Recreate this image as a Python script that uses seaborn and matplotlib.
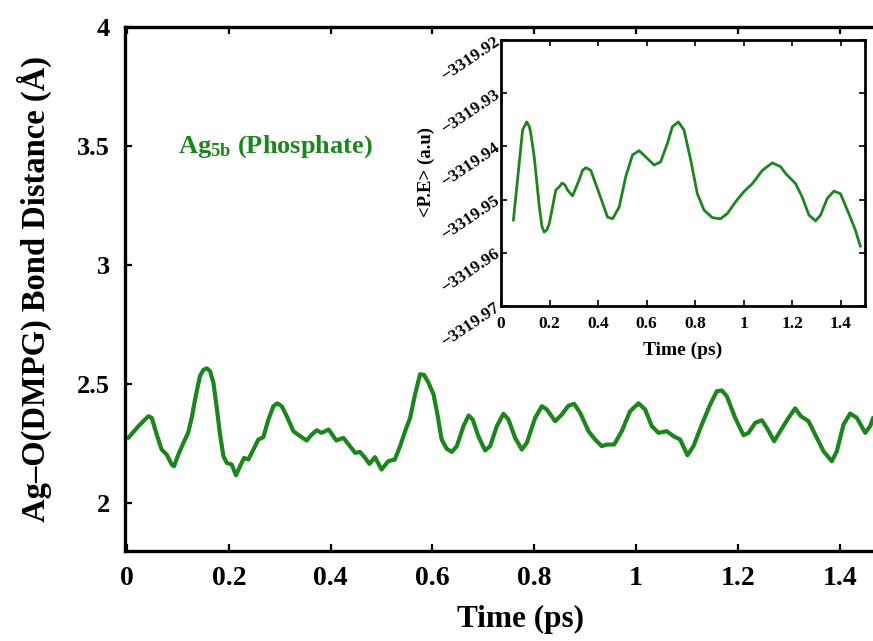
import numpy as np
import pandas as pd
import matplotlib
matplotlib.use("Agg")
import matplotlib.pyplot as plt
import seaborn as sns
from matplotlib.ticker import FixedLocator, FuncFormatter

# ---- main series: Ag-O bond distance ----
main_time = [0.0026, 0.0223, 0.042, 0.0485, 0.0583, 0.068, 0.0779, 0.0878, 0.0923, 0.1008,
             0.1107, 0.120, 0.127, 0.1356, 0.1434, 0.150, 0.1565, 0.163, 0.1696, 0.1762,
             0.1827, 0.1893, 0.1958, 0.2056, 0.2141, 0.222, 0.2299, 0.2384, 0.2482, 0.258,
             0.2678, 0.2777, 0.2875, 0.2953, 0.3039, 0.3137, 0.3268, 0.340, 0.353, 0.3628,
             0.3726, 0.382, 0.396, 0.411, 0.425, 0.438, 0.448, 0.4578, 0.4676, 0.4761,
             0.487, 0.500, 0.513, 0.526, 0.5363, 0.5462, 0.556, 0.5658, 0.5756, 0.5835,
             0.592, 0.602, 0.6097, 0.618, 0.628, 0.638, 0.6477, 0.6608, 0.671, 0.679,
             0.690, 0.7033, 0.7132, 0.7263, 0.7394, 0.7492, 0.7623, 0.7754, 0.7852, 0.8016,
             0.8147, 0.8245, 0.8409, 0.854, 0.867, 0.8782, 0.890, 0.9064, 0.9194, 0.9325,
             0.9424, 0.9568, 0.9718, 0.9882, 1.0046, 1.0177, 1.0308, 1.0439, 1.060, 1.0733,
             1.0864, 1.1008, 1.1126, 1.129, 1.1454, 1.1585, 1.1683, 1.1781, 1.1945, 1.2109,
             1.2207, 1.2338, 1.2469, 1.2567, 1.2711, 1.2829, 1.2993, 1.3124, 1.3235, 1.3386,
             1.3517, 1.368, 1.3844, 1.3942, 1.4073, 1.4204, 1.4335, 1.450, 1.4597, 1.4656]
main_dist = [2.275, 2.324, 2.366, 2.359, 2.289, 2.226, 2.205, 2.163, 2.156, 2.205,
             2.254, 2.296, 2.359, 2.458, 2.535, 2.560, 2.567, 2.556, 2.507, 2.401,
             2.289, 2.198, 2.170, 2.163, 2.118, 2.156, 2.191, 2.184, 2.226, 2.268,
             2.278, 2.352, 2.408, 2.420, 2.408, 2.366, 2.303, 2.282, 2.264, 2.289,
             2.307, 2.296, 2.310, 2.264, 2.275, 2.240, 2.212, 2.216, 2.191, 2.166,
             2.194, 2.142, 2.177, 2.184, 2.240, 2.303, 2.359, 2.458, 2.542, 2.539,
             2.507, 2.458, 2.373, 2.268, 2.229, 2.216, 2.240, 2.324, 2.369, 2.352,
             2.282, 2.222, 2.240, 2.324, 2.376, 2.352, 2.275, 2.226, 2.254, 2.359,
             2.408, 2.394, 2.345, 2.373, 2.410, 2.418, 2.380, 2.303, 2.268, 2.240,
             2.247, 2.247, 2.303, 2.387, 2.420, 2.394, 2.324, 2.296, 2.303, 2.282,
             2.268, 2.202, 2.240, 2.331, 2.415, 2.471, 2.474, 2.450, 2.359, 2.286,
             2.296, 2.338, 2.349, 2.317, 2.261, 2.303, 2.359, 2.399, 2.366, 2.345,
             2.289, 2.219, 2.177, 2.219, 2.331, 2.377, 2.359, 2.296, 2.324, 2.359]

# ---- inset series: <P.E> (a.u) ----
pe_time = [0.051, 0.075, 0.089, 0.106, 0.117, 0.123, 0.137, 0.158, 0.169, 0.178,
           0.189, 0.199, 0.226, 0.240, 0.251, 0.263, 0.274, 0.295, 0.322, 0.336,
           0.350, 0.370, 0.405, 0.439, 0.460, 0.487, 0.514, 0.542, 0.569, 0.597,
           0.631, 0.658, 0.686, 0.706, 0.731, 0.754, 0.782, 0.809, 0.837, 0.871,
           0.905, 0.933, 0.967, 1.001, 1.036, 1.077, 1.118, 1.152, 1.173, 1.214,
           1.241, 1.269, 1.296, 1.317, 1.344, 1.372, 1.399, 1.433, 1.461, 1.481]
pe_val = [-3319.9539, -3319.9432, -3319.9369, -3319.9354, -3319.9363, -3319.9376,
          -3319.9420, -3319.9514, -3319.9551, -3319.9561, -3319.9557, -3319.9545,
          -3319.9482, -3319.9476, -3319.9469, -3319.9472, -3319.9482, -3319.9493,
          -3319.9463, -3319.9445, -3319.9440, -3319.9445, -3319.9489, -3319.9533,
          -3319.9536, -3319.9514, -3319.9457, -3319.9416, -3319.9408, -3319.9420,
          -3319.9435, -3319.9429, -3319.9394, -3319.9363, -3319.9354, -3319.9369,
          -3319.9426, -3319.9489, -3319.9520, -3319.9534, -3319.9536, -3319.9526,
          -3319.9504, -3319.9485, -3319.9470, -3319.9445, -3319.9431, -3319.9438,
          -3319.9451, -3319.9470, -3319.9495, -3319.9529, -3319.9540, -3319.9529,
          -3319.9498, -3319.9484, -3319.9489, -3319.9526, -3319.9558, -3319.9588]

main_xticks = [0, 0.2, 0.4, 0.6, 0.8, 1.0, 1.2, 1.4]
main_yticks = [2, 2.5, 3, 3.5, 4]
inset_xticks = [0, 0.2, 0.4, 0.6, 0.8, 1.0, 1.2, 1.4]
inset_yticks = [-3319.97, -3319.96, -3319.95, -3319.94, -3319.93, -3319.92]
inset_ylabels = ["\u22123319.97", "\u22123319.96", "\u22123319.95",
                 "\u22123319.94", "\u22123319.93", "\u22123319.92"]

sns.set_theme(style="ticks")
plt.rcParams["font.family"] = ["Liberation Serif", "DejaVu Serif"]
plt.rcParams["font.weight"] = "bold"
plt.rcParams["mathtext.fontset"] = "custom"
plt.rcParams["mathtext.rm"] = "Liberation Serif:bold"
plt.rcParams["mathtext.bf"] = "Liberation Serif:bold"
plt.rcParams["mathtext.it"] = "Liberation Serif:bold"
plt.rcParams["axes.unicode_minus"] = True
for key in ["text.color", "axes.labelcolor", "xtick.color", "ytick.color",
            "axes.edgecolor"]:
    plt.rcParams[key] = "black"

green = "#1d851d"
W, H = 873, 641
fig = plt.figure(figsize=(W / 100, H / 100), dpi=100)

# main axes: left spine at px 125, bottom at 551, top at 27, right beyond edge
ax = fig.add_axes([125 / W, (H - 551) / H, (880 - 125) / W, (551 - 27) / H])
df_main = pd.DataFrame({"t": main_time, "d": main_dist})
sns.lineplot(data=df_main, x="t", y="d", ax=ax, color=green, linewidth=3.0,
             solid_joinstyle="round", solid_capstyle="round")
ax.set_xlim(-0.004, 1.479)
ax.set_ylim(1.8, 4.0)
ax.xaxis.set_major_locator(FixedLocator(main_xticks))
ax.yaxis.set_major_locator(FixedLocator(main_yticks))
fmt = FuncFormatter(lambda v, p: f"{v:g}")
ax.xaxis.set_major_formatter(fmt)
ax.yaxis.set_major_formatter(fmt)
ax.tick_params(direction="in", length=5, width=1.6, top=True, right=False,
               labelsize=19, pad=11)
ax.tick_params(axis="x", labelsize=20)
for lab in ax.get_xticklabels() + ax.get_yticklabels():
    lab.set_fontweight("bold")
for side in ["left", "bottom", "top"]:
    ax.spines[side].set_linewidth(2.4)
ax.spines["right"].set_visible(False)
ax.set_xlabel("Time (ps)", fontsize=22.5, fontweight="bold")
ax.xaxis.set_label_coords((521 - 125) / 755, -(619 - 551) / 524)
ax.set_ylabel("Ag\u2013O(DMPG) Bond Distance (\u00c5)", fontsize=23.5,
              fontweight="bold")
ax.yaxis.set_label_coords((34 - 125) / 755, (551 - 289) / 524)
ax.yaxis.label.set_va("center")
ax.xaxis.label.set_va("center")
ax.text(0.100, 3.474, r"Ag$_{\mathbf{5b}}$ (Phosphate)", color=green,
        fontsize=19, fontweight="bold", va="baseline", ha="left")

# inset axes
ins = fig.add_axes([501 / W, (H - 306) / H, (865 - 501) / W, (306 - 40) / H])
df_pe = pd.DataFrame({"t": pe_time, "pe": pe_val})
sns.lineplot(data=df_pe, x="t", y="pe", ax=ins, color=green, linewidth=2.0,
             solid_joinstyle="round")
ins.set_xlim(0, 1.5)
ins.set_ylim(-3319.97, -3319.92)
ins.xaxis.set_major_locator(FixedLocator(inset_xticks))
ins.xaxis.set_major_formatter(fmt)
ins.yaxis.set_major_locator(FixedLocator(inset_yticks))
ins.set_yticklabels(inset_ylabels)
ins.tick_params(direction="in", length=4, width=1.2, top=True, right=True,
                labelsize=12.5, pad=7)
ins.tick_params(axis="y", pad=2)
for lab in ins.get_xticklabels():
    lab.set_fontweight("bold")
for lab in ins.get_yticklabels():
    lab.set_fontweight("bold")
    lab.set_rotation(34)
    lab.set_rotation_mode("anchor")
    lab.set_ha("right")
    lab.set_va("center")
for side in ins.spines:
    ins.spines[side].set_linewidth(2.0)
ins.set_xlabel("Time (ps)", fontsize=14, fontweight="bold")
ins.xaxis.set_label_coords((683 - 501) / 364, -(350 - 306) / 266)
ins.xaxis.label.set_va("center")
ins.set_ylabel("<P.E> (a.u)", fontsize=13.5, fontweight="bold")
ins.yaxis.set_label_coords((426 - 501) / 364, (306 - 172) / 266)
ins.yaxis.label.set_va("center")

fig.savefig("out.png", dpi=100)
